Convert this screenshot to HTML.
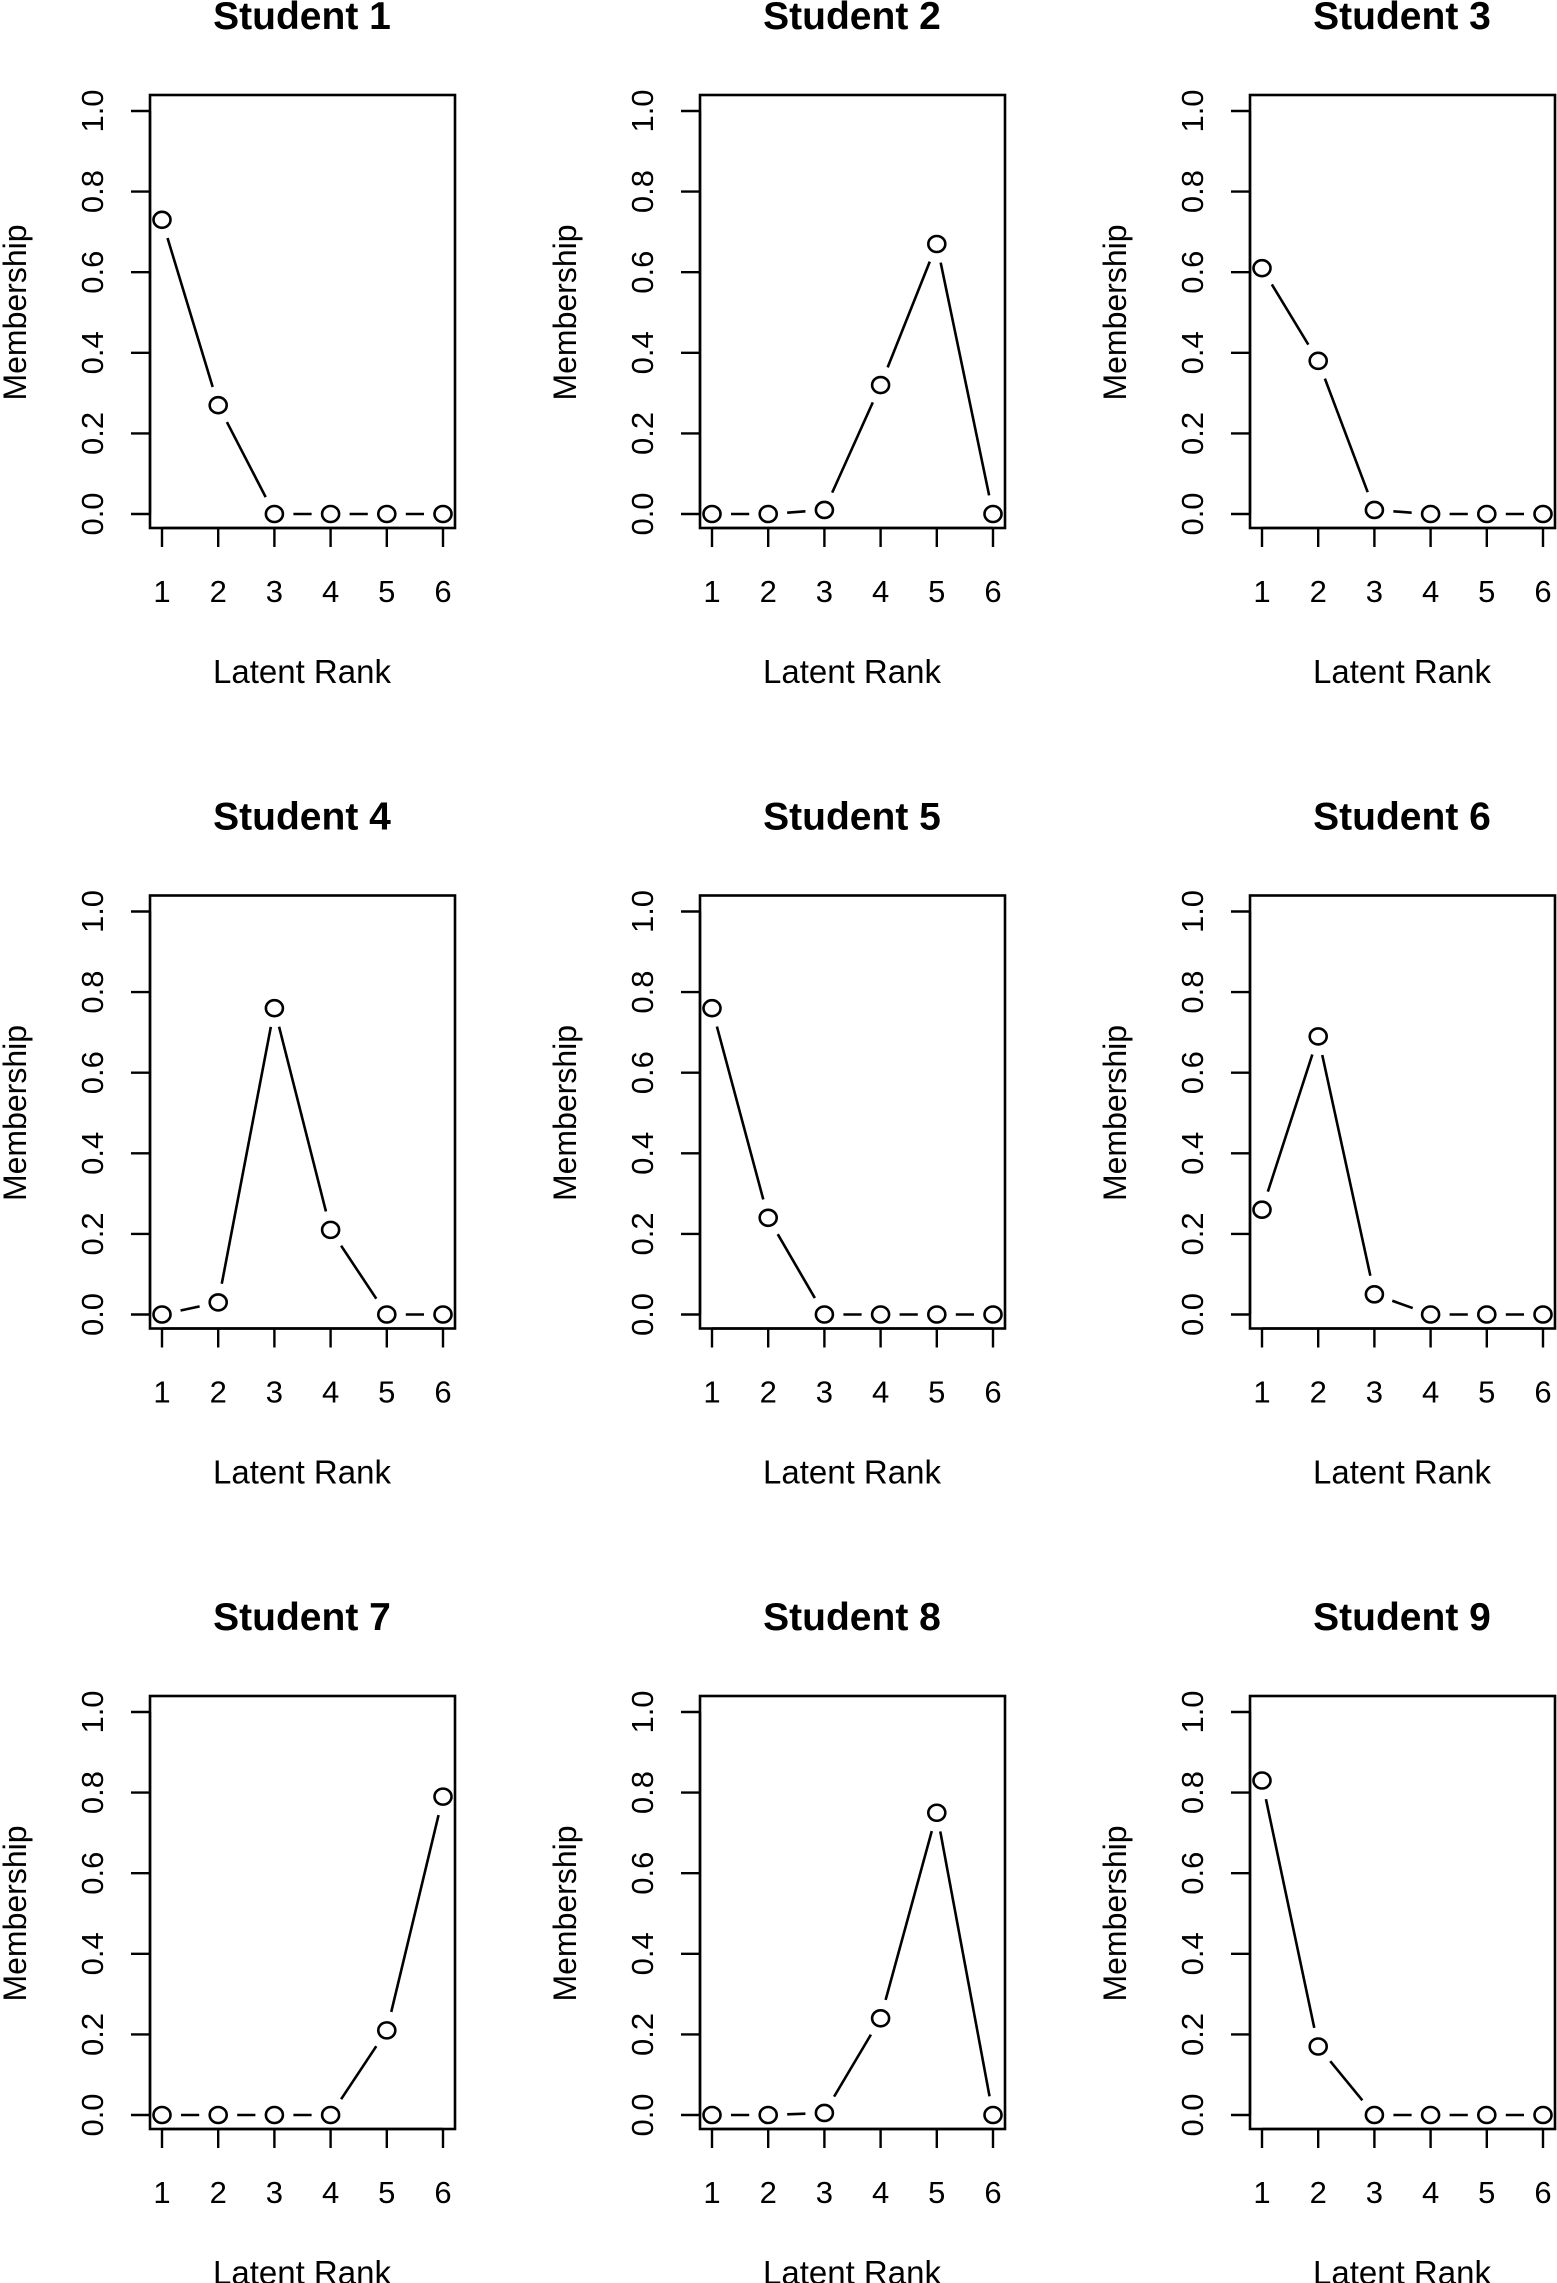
<!DOCTYPE html>
<html><head><meta charset="utf-8"><style>
html,body{margin:0;padding:0;background:#fff;}
svg{display:block;}
text{font-family:"Liberation Sans",sans-serif;fill:#000;}
</style></head><body>
<svg id="chart" width="1557" height="2283" viewBox="0 0 1557 2283" xmlns="http://www.w3.org/2000/svg"></svg>
<script>
const students = ["Student 1","Student 2","Student 3","Student 4","Student 5","Student 6","Student 7","Student 8","Student 9"];
const ranks = [1,2,3,4,5,6];
const yTicks = ["0.0","0.2","0.4","0.6","0.8","1.0"];
const s1 = [0.73,0.27,0,0,0,0];
const s2 = [0,0,0.01,0.32,0.67,0];
const s3 = [0.61,0.38,0.01,0,0,0];
const s4 = [0,0.03,0.76,0.21,0,0];
const s5 = [0.76,0.24,0,0,0,0];
const s6 = [0.26,0.69,0.05,0,0,0];
const s7 = [0,0,0,0,0.21,0.79];
const s8 = [0,0,0.005,0.24,0.75,0];
const s9 = [0.83,0.17,0,0,0,0];
const series = [s1,s2,s3,s4,s5,s6,s7,s8,s9];

const NS="http://www.w3.org/2000/svg";
const svg=document.getElementById('chart');
function mk(tag,attrs,parent){const e=document.createElementNS(NS,tag);for(const k in attrs)e.setAttribute(k,attrs[k]);parent.appendChild(e);return e;}

series.forEach((vals,i)=>{
  const ox=(i%3)*550, oy=Math.floor(i/3)*800.5;
  const g=mk('g',{transform:`translate(${ox},${oy})`},svg);
  
  
  const xs=r=>162+(r-1)*(443-162)/5;
  const ys=v=>514-v*403;
  const box=mk('rect',{x:150,y:95,width:305,height:433,fill:'none',stroke:'#000','stroke-width':2.6},g);
  
  
  const t=mk('text',{x:302,y:29,'text-anchor':'middle','font-size':39,'font-weight':'bold'},g);
  t.textContent=students[i];
  
  
  mk('line',{x1:150,x2:150,y1:ys(0),y2:ys(1),stroke:'#000','stroke-width':2.4},g);
  yTicks.forEach(lab=>{
    const v=parseFloat(lab), y=ys(v);
    mk('line',{x1:131,x2:150,y1:y,y2:y,stroke:'#000','stroke-width':2.4},g);
    const tl=mk('text',{x:0,y:0,transform:`translate(103,${y}) rotate(-90)`,'text-anchor':'middle','font-size':31},g);
    tl.textContent=lab;
    
    
  });
  const yl=mk('text',{x:0,y:0,transform:`translate(26,${ys(0.5)}) rotate(-90)`,'text-anchor':'middle','font-size':32},g);
  yl.textContent='Membership';
  
  
  mk('line',{x1:xs(1),x2:xs(6),y1:528,y2:528,stroke:'#000','stroke-width':2.4},g);
  ranks.forEach(r=>{
    const x=xs(r);
    mk('line',{x1:x,x2:x,y1:528,y2:547,stroke:'#000','stroke-width':2.4},g);
    const tl=mk('text',{x:x,y:602,'text-anchor':'middle','font-size':31},g);
    tl.textContent=r;
    
    
  });
  const xl=mk('text',{x:302,y:683,'text-anchor':'middle','font-size':33},g);
  xl.textContent='Latent Rank';
  
  
  const gap=19;
  for(let k=0;k<vals.length-1;k++){
    const x1=xs(ranks[k]),y1=ys(vals[k]),x2=xs(ranks[k+1]),y2=ys(vals[k+1]);
    const dx=x2-x1,dy=y2-y1,L=Math.hypot(dx,dy);
    if(L<=2*gap)continue;
    const ux=dx/L,uy=dy/L;
    const seg=mk('line',{x1:x1+ux*gap,y1:y1+uy*gap,x2:x2-ux*gap,y2:y2-uy*gap,stroke:'#000','stroke-width':2.6},g);
    
    
  }
  vals.forEach((v,k)=>{
    const c=mk('ellipse',{cx:xs(ranks[k]),cy:ys(v),rx:8.5,ry:8,fill:'none',stroke:'#000','stroke-width':2.6},g);
    
    
  });
});
</script>
</body></html>
